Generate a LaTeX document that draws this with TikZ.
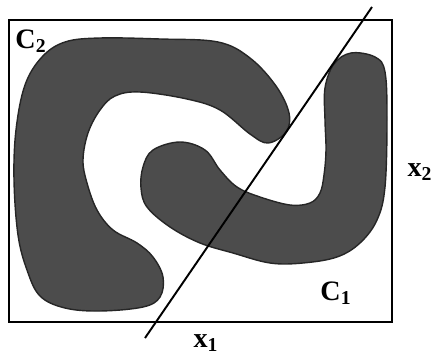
\documentclass[tikz,border=0pt]{standalone}
\usepackage{fontspec}
\setmainfont{Liberation Serif}
\tikzset{
  blob/.style={fill=black!70, draw=black!85, line width=0.8pt},
  lbl/.style={font=\fontsize{16}{18}\selectfont\bfseries, inner sep=0pt}
}
\begin{document}
\begin{tikzpicture}[x=0.02cm, y=-0.02cm]
        \useasboundingbox (0,0) rectangle (437,355);
        % Frame
        \draw[line width=1.1pt] (9,20) rectangle (392,322);

        % Region C2 (upper left hook)
        \draw[blob] plot[smooth cycle, tension=0.6] coordinates {
          (163,277) (160,297) (143,307) (100,311) (65,308) (40,296)
          (27,270) (18,235) (14,180) (16,130) (25,85) (42,57) (65,42)
          (100,38) (160,39) (218,42) (250,58) (276,86) (289,113) (286,132)
          (268,143) (250,134) (220,110) (187,99) (140,92) (115,96)
          (100,110) (88,133) (83,160) (87,183) (97,210) (113,230)
          (137,243) (153,257)};

        % Region C1 (lower right hook)
        \draw[blob] plot[smooth cycle, tension=0.6] coordinates {
          (351,53) (375,57) (385,72) (387,120) (385,187) (377,220)
          (360,243) (337,257) (303,263) (270,263) (233,253) (200,243)
          (170,227) (147,207) (141,188) (143,167) (153,150) (180,142)
          (205,150) (220,170) (237,187) (260,197) (290,205) (310,203)
          (320,193) (324,175) (326,150) (325,120) (325,88) (334,64)};

        % Separating line
        \coordinate (lo) at (145,338);
        \coordinate (hi) at (372,7);
        \draw[line width=1.1pt] (lo) -- (hi);

        % Labels
        \node[lbl] (c2) at (31,41) {C\textsubscript{2}};
        \node[lbl] (c1) at (336,293) {C\textsubscript{1}};
        \node[lbl] (x1) at (206,343) {x\textsubscript{1}};
        \node[lbl] (x2) at (420,172) {x\textsubscript{2}};
\end{tikzpicture}
\end{document}
